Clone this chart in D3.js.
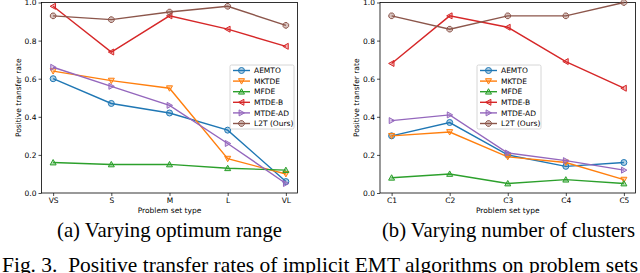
<!DOCTYPE html>
<html>
<head>
<meta charset="utf-8">
<script src="https://cdn.jsdelivr.net/npm/d3@7"></script>
<style>
  body { margin: 0; background: #fff; }
  svg { display: block; }
</style>
</head>
<body>
<div id="chart"></div>
<script>
// series names and tick labels
const seriesNames = ['AEMTO', 'MKTDE', 'MFDE', 'MTDE-B', 'MTDE-AD', 'L2T (Ours)'];
const catsA = ['VS', 'S', 'M', 'L', 'VL'];
const catsB = ['C1', 'C2', 'C3', 'C4', 'C5'];
const yTicks = [0.0, 0.2, 0.4, 0.6, 0.8, 1.0];

// (a) varying optimum range
const aemtoA  = [0.60, 0.47, 0.42, 0.33, 0.06];
const mktdeA  = [0.64, 0.59, 0.55, 0.18, 0.10];
const mfdeA   = [0.16, 0.15, 0.15, 0.13, 0.12];
const mtdebA  = [0.98, 0.74, 0.93, 0.86, 0.77];
const mtdeadA = [0.66, 0.56, 0.46, 0.26, 0.05];
const l2tA    = [0.93, 0.91, 0.95, 0.98, 0.88];

// (b) varying number of clusters
const aemtoB  = [0.30, 0.37, 0.20, 0.14, 0.16];
const mktdeB  = [0.30, 0.32, 0.19, 0.16, 0.07];
const mfdeB   = [0.08, 0.10, 0.05, 0.07, 0.05];
const mtdebB  = [0.68, 0.93, 0.87, 0.69, 0.55];
const mtdeadB = [0.38, 0.41, 0.21, 0.17, 0.12];
const l2tB    = [0.93, 0.86, 0.93, 0.93, 1.00];

const colors = ['#1f77b4', '#ff7f0e', '#2ca02c', '#d62728', '#9467bd', '#8c564b'];
const markers = ['circle', 'tri-down', 'tri-up', 'tri-left', 'tri-right', 'octagon'];

const W = 640, H = 273;
const svg = d3.select('#chart').append('svg')
  .attr('width', W)
  .attr('height', H);

const TICK_FONT = 'DejaVu Sans, sans-serif';
const SERIF = 'Liberation Serif, Times New Roman, serif';

// marker path around 0,0
function markerPath(type, r) {
  const poly = (pts) => 'M' + pts.map(p => p.join(',')).join('L') + 'Z';
  switch (type) {
    case 'circle':
      return `M${-r},0A${r},${r} 0 1,0 ${r},0A${r},${r} 0 1,0 ${-r},0Z`;
    case 'tri-down': return poly([[-r, -r * 0.8], [r, -r * 0.8], [0, r]]);
    case 'tri-up': return poly([[-r, r * 0.8], [r, r * 0.8], [0, -r]]);
    case 'tri-left': return poly([[r * 0.8, -r], [r * 0.8, r], [-r, 0]]);
    case 'tri-right': return poly([[-r * 0.8, -r], [-r * 0.8, r], [r, 0]]);
    case 'octagon': {
      const pts = d3.range(8).map(i => {
        const a = Math.PI / 8 + i * Math.PI / 4;
        return [r * Math.cos(a), r * Math.sin(a)];
      });
      return poly(pts);
    }
  }
}

function drawPanel(opts) {
  const { left, right, top, bottom, cats, data, legendX, legendY } = opts;

  const x = d3.scaleLinear().domain([-0.2, cats.length - 0.8]).range([left, right]);
  const y = d3.scaleLinear().domain([0, 1]).range([bottom, top]);

  const g = svg.append('g');

  // axes
  const xAxis = g.append('g')
    .attr('transform', `translate(0, ${bottom})`)
    .call(d3.axisBottom(x).tickValues(d3.range(cats.length)).tickFormat(i => cats[i]).tickSizeOuter(0).tickSize(3).tickPadding(2));
  const yAxis = g.append('g')
    .attr('transform', `translate(${left}, 0)`)
    .call(d3.axisLeft(y).tickValues(yTicks).tickFormat(d3.format('.1f')).tickSizeOuter(0).tickSize(3).tickPadding(2));

  [xAxis, yAxis].forEach(a => {
    a.select('.domain').remove();
    a.selectAll('.tick line').attr('stroke', '#000').attr('stroke-width', 0.7);
    a.selectAll('.tick text').attr('font-family', TICK_FONT).attr('font-size', 7.5).attr('fill', '#000');
  });

  // frame
  g.append('rect')
    .attr('x', left).attr('y', top)
    .attr('width', right - left).attr('height', bottom - top)
    .attr('fill', 'none').attr('stroke', '#000').attr('stroke-width', 0.8);

  // axis labels
  g.append('text')
    .attr('x', (left + right) / 2).attr('y', bottom + 20)
    .attr('text-anchor', 'middle')
    .attr('font-family', TICK_FONT).attr('font-size', 7.5)
    .text('Problem set type');

  g.append('text')
    .attr('transform', `translate(${left - 21}, ${(top + bottom) / 2}) rotate(-90)`)
    .attr('text-anchor', 'middle')
    .attr('font-family', TICK_FONT).attr('font-size', 7.5)
    .text('Positive transfer rate');

  const line = d3.line()
    .x((d, i) => x(i))
    .y(d => y(d));

  const plot = g.append('g');
  data.forEach((vals, s) => {
    plot.append('path')
      .attr('d', line(vals))
      .attr('fill', 'none')
      .attr('stroke', colors[s])
      .attr('stroke-width', 1.4);
    plot.selectAll(null)
      .data(vals)
      .enter().append('path')
      .attr('transform', (d, i) => `translate(${x(i)}, ${y(d)})`)
      .attr('d', markerPath(markers[s], 3))
      .attr('fill', colors[s])
      .attr('fill-opacity', 0.35)
      .attr('stroke', colors[s])
      .attr('stroke-width', 1);
  });

  // legend
  const lg = g.append('g').attr('transform', `translate(${legendX}, ${legendY})`);
  const rowH = 10.6;
  lg.append('rect')
    .attr('x', 0).attr('y', 0)
    .attr('width', 64).attr('height', 64)
    .attr('rx', 1.5)
    .attr('fill', '#fff').attr('fill-opacity', 0.8)
    .attr('stroke', '#ccc').attr('stroke-width', 0.8);
  seriesNames.forEach((name, s) => {
    const cy = 5.5 + s * rowH;
    lg.append('line')
      .attr('x1', 3).attr('x2', 20)
      .attr('y1', cy).attr('y2', cy)
      .attr('stroke', colors[s]).attr('stroke-width', 1.4);
    lg.append('path')
      .attr('transform', `translate(11.5, ${cy})`)
      .attr('d', markerPath(markers[s], 3))
      .attr('fill', colors[s]).attr('fill-opacity', 0.35)
      .attr('stroke', colors[s]).attr('stroke-width', 1);
    lg.append('text')
      .attr('x', 24).attr('y', cy)
      .attr('dy', '0.35em')
      .attr('font-family', TICK_FONT).attr('font-size', 7.5)
      .text(name);
  });
}

drawPanel({
  left: 41.5, right: 297.5, top: 2.5, bottom: 193,
  cats: catsA,
  data: [aemtoA, mktdeA, mfdeA, mtdebA, mtdeadA, l2tA],
  legendX: 230, legendY: 65
});

drawPanel({
  left: 380, right: 635.5, top: 2.5, bottom: 193,
  cats: catsB,
  data: [aemtoB, mktdeB, mfdeB, mtdebB, mtdeadB, l2tB],
  legendX: 477, legendY: 65
});

// sub captions
svg.append('text')
  .attr('x', 57).attr('y', 237)
  .attr('font-family', SERIF).attr('font-size', 21.5)
  .attr('textLength', 225)
  .attr('lengthAdjust', 'spacingAndGlyphs')
  .text('(a) Varying optimum range');

svg.append('text')
  .attr('x', 382).attr('y', 237)
  .attr('font-family', SERIF).attr('font-size', 21.5)
  .attr('textLength', 253)
  .attr('lengthAdjust', 'spacingAndGlyphs')
  .text('(b) Varying number of clusters');

// figure caption (cut by the bottom edge)
svg.append('text')
  .attr('x', 2).attr('y', 272)
  .attr('font-family', SERIF).attr('font-size', 21.5)
  .attr('textLength', 636)
  .attr('lengthAdjust', 'spacingAndGlyphs')
  .attr('xml:space', 'preserve')
  .text('Fig. 3.  Positive transfer rates of implicit EMT algorithms on problem sets');
</script>
</body>
</html>
